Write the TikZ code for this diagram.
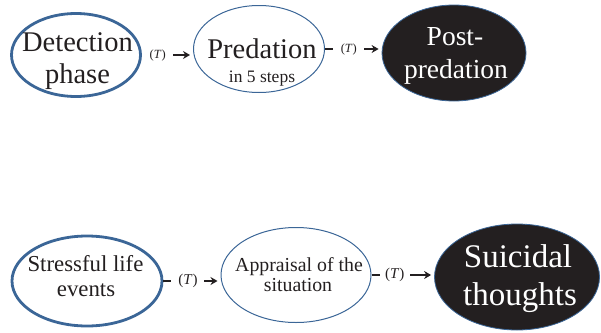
\documentclass[tikz,border=0pt]{standalone}
\usepackage{fontspec}
\setmainfont{Liberation Serif}
\usetikzlibrary{shapes.geometric,arrows.meta}
\definecolor{edgeblue}{HTML}{3B6697}
\definecolor{nearblack}{HTML}{231F20}
\tikzset{
  phase/.style={ellipse,draw=edgeblue,inner sep=0pt},
  startphase/.style={phase,line width=2.8pt},
  midphase/.style={phase,line width=1pt},
  endphase/.style={phase,line width=0.8pt,fill=nearblack},
  word/.style={anchor=base,inner sep=0pt,text=nearblack},
  whiteword/.style={word,text=white},
  link/.style={draw=nearblack,line width=1.4pt,-{Stealth[length=7pt,width=8pt]},shorten >=3pt},
  tlabel/.style={fill=white,inner sep=0pt,minimum height=14pt,text=nearblack}
}
\newcommand{\fs}[1]{\fontsize{#1}{#1}\selectfont}
\begin{document}
\begin{tikzpicture}[x=1pt,y=-1pt]
\useasboundingbox (0,0) rectangle (601,332);

% top row: the three phases of predation
\node[startphase,minimum width=129pt,minimum height=83pt] (det) at (76,55) {};
\node[word,font=\fs{28.5}] (det1) at (77.5,51.7) {Detection};
\node[word,font=\fs{28.5}] (det2) at (77.5,83) {phase};

\node[midphase,minimum width=131pt,minimum height=87pt] (pred) at (259,49) {};
\node[word,font=\fs{28.5}] (pred1) at (262,58) {Predation};
\node[word,font=\fs{17.5}] (pred2) at (262,82.7) {in 5 steps};

\node[endphase,minimum width=144pt,minimum height=96pt] (post) at (454,53) {};
\node[whiteword,font=\fs{27.5}] (post1) at (455,45) {Post-};
\node[whiteword,font=\fs{27.5}] (post2) at (456,78) {predation};

% bottom row: the suicidal process
\node[startphase,minimum width=150pt,minimum height=90pt] (stress) at (87,281) {};
\node[word,font=\fs{22.8}] (stress1) at (85.5,271.7) {Stressful life};
\node[word,font=\fs{22.8}] (stress2) at (86,296.7) {events};

\node[midphase,minimum width=150pt,minimum height=95pt] (appr) at (296,275) {};
\node[word,font=\fs{19.8}] (appr1) at (299,271.7) {Appraisal of the};
\node[word,font=\fs{19.8}] (appr2) at (298,291.7) {situation};

\node[endphase,minimum width=165pt,minimum height=106pt] (sui) at (517,277) {};
\node[whiteword,font=\fs{33}] (sui1) at (518,267) {Suicidal};
\node[whiteword,font=\fs{33}] (sui2) at (520,305) {thoughts};

% connectors, each labelled with the transition (T)
\draw[link] (det.east) -- (det.east -| pred.west)
  node[tlabel,pos=0.31,minimum width=31pt,font=\fs{12.5}] (t1) {(\textit{T})};
\draw[link] (pred.east) -- (pred.east -| post.west)
  node[tlabel,pos=0.42,minimum width=31pt,font=\fs{12.5}] (t2) {(\textit{T})};
\draw[link] (stress.east) -- (stress.east -| appr.west)
  node[tlabel,pos=0.43,minimum width=33pt,font=\fs{15}] (t3) {(\textit{T})};
\draw[link] (appr.east) -- (appr.east -| sui.west)
  node[tlabel,pos=0.37,minimum width=30pt,font=\fs{15}] (t4) {(\textit{T})};
\end{tikzpicture}
\end{document}
